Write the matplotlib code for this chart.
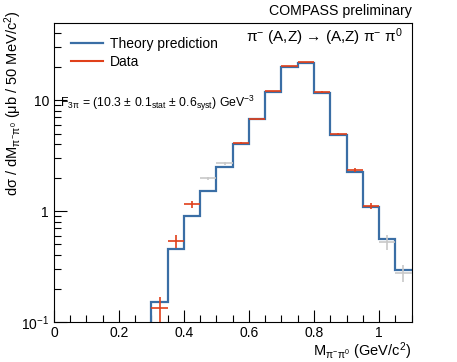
import numpy as np
import matplotlib
matplotlib.use("Agg")
import matplotlib.pyplot as plt
from matplotlib.ticker import FixedLocator, FixedFormatter, MultipleLocator, LogLocator, NullFormatter

plt.rcParams['font.family'] = ['Liberation Sans', 'DejaVu Sans']
plt.rcParams['mathtext.fontset'] = 'custom'
plt.rcParams['mathtext.rm'] = 'Liberation Sans'
plt.rcParams['mathtext.it'] = 'Liberation Sans'

# theory histogram, 50 MeV bins from 0 to 1.1 GeV
bin_edges = np.round(np.arange(0, 1.1001, 0.05), 3)
theory = [0, 0, 0, 0, 0, 0, 0.152, 0.455, 0.90, 1.53, 2.51, 3.99, 6.7, 11.9,
          20.0, 21.7, 11.7, 4.9, 2.26, 1.09, 0.56, 0.294]

# data points used in the fit (red)
data_x = [0.325, 0.375, 0.425, 0.575, 0.625, 0.675, 0.725, 0.775, 0.825, 0.875, 0.925, 0.975]
data_y = [0.133, 0.537, 1.15, 4.1, 6.7, 12.0, 20.2, 21.9, 11.8, 4.95, 2.34, 1.11]
data_err = [0.036, 0.07, 0.09, 0.08, 0.12, 0.2, 0.3, 0.3, 0.2, 0.12, 0.09, 0.07]

# data points not used (grey)
excl_x = [0.475, 0.525, 1.025, 1.075]
excl_y = [1.97, 2.69, 0.53, 0.278]
excl_err = [0.08, 0.1, 0.08, 0.05]

fig = plt.figure(figsize=(4.57, 3.62), dpi=100)
ax = fig.add_axes([0.118, 0.1105, 0.7825, 0.8255])

ax.stairs(theory, bin_edges, baseline=None, color='#3a6ea5', lw=1.6,
          label='Theory prediction', zorder=2)
ax.errorbar(excl_x, excl_y, xerr=0.025, yerr=excl_err, fmt='none', ecolor='#c8c8c8',
            elinewidth=1.2, zorder=3)
ax.errorbar(data_x, data_y, xerr=0.025, yerr=data_err, fmt='none', ecolor='#e0401a',
            elinewidth=1.2, zorder=4)
ax.plot([], [], color='#e0401a', lw=1.5, label='Data')

ax.set_yscale('log')
ax.set_xlim(0, 1.1)
ax.set_ylim(0.1, 49.5)

ax.set_xticks([0, 0.2, 0.4, 0.6, 0.8, 1.0])
ax.set_xticklabels(['0', '0.2', '0.4', '0.6', '0.8', '1'])
ax.xaxis.set_minor_locator(MultipleLocator(0.05))

ax.yaxis.set_major_locator(FixedLocator([0.1, 1, 10]))
ax.yaxis.set_major_formatter(FixedFormatter(['$10^{-1}$', '1', '10']))
ax.yaxis.set_minor_locator(LogLocator(base=10, subs=np.arange(2, 10)))
ax.yaxis.set_minor_formatter(NullFormatter())

ax.tick_params(which='both', direction='in', top=False, right=False, labelsize=10)
ax.tick_params(which='major', length=9, width=0.8)
ax.tick_params(which='minor', length=5, width=0.8)
ax.tick_params(axis='x', pad=3)

ax.set_xlabel(r'M$_{\pi^{-}\pi^{0}}$ (GeV/c$^{2}$)', fontsize=10.5, ha='right')
ax.xaxis.set_label_coords(1.0, -0.062)
ax.set_ylabel(r'd$\sigma$ / dM$_{\pi^{-}\pi^{0}}$ ($\mu$b / 50 MeV/c$^{2}$)', fontsize=10.5,
              ha='right')
ax.yaxis.set_label_coords(-0.085, 1.043)

ax.legend(loc='upper left', frameon=False, fontsize=10, handlelength=2.3, handletextpad=0.5,
          labelspacing=0.3, borderpad=0, borderaxespad=0, bbox_to_anchor=(0.048, 0.955))

ax.text(0.976, 0.953, 'π$^{-}$ (A,Z) → (A,Z) π$^{-}$ π$^{0}$', transform=ax.transAxes,
        ha='right', va='center', fontsize=11)
ax.text(0.017, 0.732, r'F$_{3\pi}$ = (10.3 $\pm$ 0.1$_{\rm stat}$ $\pm$ 0.6$_{\rm syst}$) GeV$^{-3}$',
        transform=ax.transAxes, ha='left', va='center', fontsize=8.8)
fig.text(0.9005, 0.97, 'COMPASS preliminary', ha='right', va='center', fontsize=10.2)

fig.savefig('out.png', dpi=100)
